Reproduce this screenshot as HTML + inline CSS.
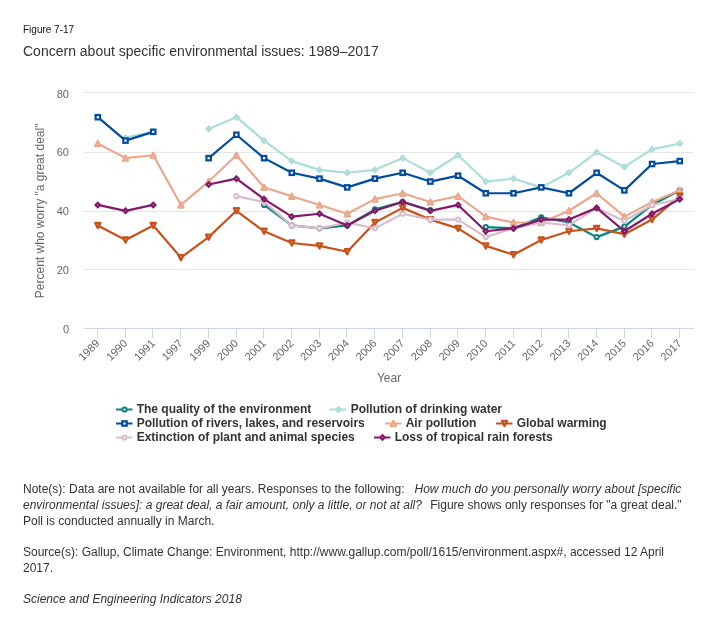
<!DOCTYPE html>
<html><head><meta charset="utf-8"><style>
html,body{margin:0;padding:0;background:#fff;}
body{width:724px;height:630px;position:relative;overflow:hidden;font-family:"Liberation Sans",sans-serif;}
.t{position:absolute;white-space:pre;color:#333333;will-change:transform;}
svg{position:absolute;left:0;top:0;will-change:transform;}
svg text{font-family:"Liberation Sans",sans-serif;}
</style></head><body>
<div class="t" style="left:23px;top:23.5px;font-size:10px;line-height:12px;color:#111;">Figure 7-17</div>
<div class="t" style="left:23px;top:42.7px;font-size:14px;line-height:16px;">Concern about specific environmental issues: 1989–2017</div>
<svg width="724" height="460" viewBox="0 0 724 460">
<rect x="84" y="92" width="610" height="1" fill="#e6e6e6"/>
<rect x="84" y="152" width="610" height="1" fill="#e6e6e6"/>
<rect x="84" y="211" width="610" height="1" fill="#e6e6e6"/>
<rect x="84" y="269" width="610" height="1" fill="#e6e6e6"/>
<rect x="84" y="328" width="610" height="1" fill="#ccd6eb"/>
<rect x="97" y="328" width="1" height="10" fill="#ccd6eb"/>
<rect x="125" y="328" width="1" height="10" fill="#ccd6eb"/>
<rect x="152" y="328" width="1" height="10" fill="#ccd6eb"/>
<rect x="180" y="328" width="1" height="10" fill="#ccd6eb"/>
<rect x="208" y="328" width="1" height="10" fill="#ccd6eb"/>
<rect x="236" y="328" width="1" height="10" fill="#ccd6eb"/>
<rect x="263" y="328" width="1" height="10" fill="#ccd6eb"/>
<rect x="291" y="328" width="1" height="10" fill="#ccd6eb"/>
<rect x="319" y="328" width="1" height="10" fill="#ccd6eb"/>
<rect x="346" y="328" width="1" height="10" fill="#ccd6eb"/>
<rect x="374" y="328" width="1" height="10" fill="#ccd6eb"/>
<rect x="402" y="328" width="1" height="10" fill="#ccd6eb"/>
<rect x="430" y="328" width="1" height="10" fill="#ccd6eb"/>
<rect x="457" y="328" width="1" height="10" fill="#ccd6eb"/>
<rect x="485" y="328" width="1" height="10" fill="#ccd6eb"/>
<rect x="513" y="328" width="1" height="10" fill="#ccd6eb"/>
<rect x="541" y="328" width="1" height="10" fill="#ccd6eb"/>
<rect x="568" y="328" width="1" height="10" fill="#ccd6eb"/>
<rect x="596" y="328" width="1" height="10" fill="#ccd6eb"/>
<rect x="624" y="328" width="1" height="10" fill="#ccd6eb"/>
<rect x="651" y="328" width="1" height="10" fill="#ccd6eb"/>
<rect x="679" y="328" width="1" height="10" fill="#ccd6eb"/>
<text x="69" y="98" text-anchor="end" font-size="11" fill="#666666">80</text>
<text x="69" y="156" text-anchor="end" font-size="11" fill="#666666">60</text>
<text x="69" y="215" text-anchor="end" font-size="11" fill="#666666">40</text>
<text x="69" y="274" text-anchor="end" font-size="11" fill="#666666">20</text>
<text x="69" y="333" text-anchor="end" font-size="11" fill="#666666">0</text>
<text x="100.30" y="344" text-anchor="end" font-size="11" fill="#666666" transform="rotate(-45 100.30 344)">1989</text>
<text x="128.01" y="344" text-anchor="end" font-size="11" fill="#666666" transform="rotate(-45 128.01 344)">1990</text>
<text x="155.73" y="344" text-anchor="end" font-size="11" fill="#666666" transform="rotate(-45 155.73 344)">1991</text>
<text x="183.44" y="344" text-anchor="end" font-size="11" fill="#666666" transform="rotate(-45 183.44 344)">1997</text>
<text x="211.16" y="344" text-anchor="end" font-size="11" fill="#666666" transform="rotate(-45 211.16 344)">1999</text>
<text x="238.87" y="344" text-anchor="end" font-size="11" fill="#666666" transform="rotate(-45 238.87 344)">2000</text>
<text x="266.58" y="344" text-anchor="end" font-size="11" fill="#666666" transform="rotate(-45 266.58 344)">2001</text>
<text x="294.30" y="344" text-anchor="end" font-size="11" fill="#666666" transform="rotate(-45 294.30 344)">2002</text>
<text x="322.01" y="344" text-anchor="end" font-size="11" fill="#666666" transform="rotate(-45 322.01 344)">2003</text>
<text x="349.73" y="344" text-anchor="end" font-size="11" fill="#666666" transform="rotate(-45 349.73 344)">2004</text>
<text x="377.44" y="344" text-anchor="end" font-size="11" fill="#666666" transform="rotate(-45 377.44 344)">2006</text>
<text x="405.15" y="344" text-anchor="end" font-size="11" fill="#666666" transform="rotate(-45 405.15 344)">2007</text>
<text x="432.87" y="344" text-anchor="end" font-size="11" fill="#666666" transform="rotate(-45 432.87 344)">2008</text>
<text x="460.58" y="344" text-anchor="end" font-size="11" fill="#666666" transform="rotate(-45 460.58 344)">2009</text>
<text x="488.30" y="344" text-anchor="end" font-size="11" fill="#666666" transform="rotate(-45 488.30 344)">2010</text>
<text x="516.01" y="344" text-anchor="end" font-size="11" fill="#666666" transform="rotate(-45 516.01 344)">2011</text>
<text x="543.72" y="344" text-anchor="end" font-size="11" fill="#666666" transform="rotate(-45 543.72 344)">2012</text>
<text x="571.44" y="344" text-anchor="end" font-size="11" fill="#666666" transform="rotate(-45 571.44 344)">2013</text>
<text x="599.15" y="344" text-anchor="end" font-size="11" fill="#666666" transform="rotate(-45 599.15 344)">2014</text>
<text x="626.87" y="344" text-anchor="end" font-size="11" fill="#666666" transform="rotate(-45 626.87 344)">2015</text>
<text x="654.58" y="344" text-anchor="end" font-size="11" fill="#666666" transform="rotate(-45 654.58 344)">2016</text>
<text x="682.29" y="344" text-anchor="end" font-size="11" fill="#666666" transform="rotate(-45 682.29 344)">2017</text>
<text x="389" y="381.5" text-anchor="middle" font-size="12" fill="#666666">Year</text>
<text x="0" y="0" text-anchor="middle" font-size="12" fill="#666666" transform="translate(44 210.9) rotate(-90)">Percent who worry "a great deal"</text>
<path d="M264.08 204.95L291.80 225.43L319.51 228.35L347.23 225.43L374.94 209.34L402.65 201.73L430.37 210.22" fill="none" stroke="#08847f" stroke-width="2.2" stroke-linejoin="round" stroke-linecap="round"/>
<path d="M485.80 227.18L513.51 228.35L541.22 217.24L568.94 222.50L596.65 237.12L624.37 226.60L652.08 204.95L679.79 190.33" fill="none" stroke="#08847f" stroke-width="2.2" stroke-linejoin="round" stroke-linecap="round"/>
<circle cx="264.08" cy="204.95" r="2.1" fill="#fff" stroke="#08847f" stroke-width="2"/>
<circle cx="291.80" cy="225.43" r="2.1" fill="#fff" stroke="#08847f" stroke-width="2"/>
<circle cx="319.51" cy="228.35" r="2.1" fill="#fff" stroke="#08847f" stroke-width="2"/>
<circle cx="347.23" cy="225.43" r="2.1" fill="#fff" stroke="#08847f" stroke-width="2"/>
<circle cx="374.94" cy="209.34" r="2.1" fill="#fff" stroke="#08847f" stroke-width="2"/>
<circle cx="402.65" cy="201.73" r="2.1" fill="#fff" stroke="#08847f" stroke-width="2"/>
<circle cx="430.37" cy="210.22" r="2.1" fill="#fff" stroke="#08847f" stroke-width="2"/>
<circle cx="485.80" cy="227.18" r="2.1" fill="#fff" stroke="#08847f" stroke-width="2"/>
<circle cx="513.51" cy="228.35" r="2.1" fill="#fff" stroke="#08847f" stroke-width="2"/>
<circle cx="541.22" cy="217.24" r="2.1" fill="#fff" stroke="#08847f" stroke-width="2"/>
<circle cx="568.94" cy="222.50" r="2.1" fill="#fff" stroke="#08847f" stroke-width="2"/>
<circle cx="596.65" cy="237.12" r="2.1" fill="#fff" stroke="#08847f" stroke-width="2"/>
<circle cx="624.37" cy="226.60" r="2.1" fill="#fff" stroke="#08847f" stroke-width="2"/>
<circle cx="652.08" cy="204.95" r="2.1" fill="#fff" stroke="#08847f" stroke-width="2"/>
<circle cx="679.79" cy="190.33" r="2.1" fill="#fff" stroke="#08847f" stroke-width="2"/>
<path d="M125.51 137.68L153.23 131.83" fill="none" stroke="#acddd9" stroke-width="2.2" stroke-linejoin="round" stroke-linecap="round"/>
<path d="M208.66 128.90L236.37 117.20L264.08 140.60L291.80 161.08L319.51 169.85L347.23 172.78L374.94 169.85L402.65 158.15L430.37 172.78L458.08 155.23L485.80 181.55L513.51 178.63L541.22 187.40L568.94 172.78L596.65 152.30L624.37 166.93L652.08 149.38L679.79 143.53" fill="none" stroke="#acddd9" stroke-width="2.2" stroke-linejoin="round" stroke-linecap="round"/>
<path d="M125.51 135.53L127.66 137.68L125.51 139.83L123.36 137.68Z" fill="#fff" stroke="#acddd9" stroke-width="2.3"/>
<path d="M153.23 129.68L155.38 131.83L153.23 133.98L151.08 131.83Z" fill="#fff" stroke="#acddd9" stroke-width="2.3"/>
<path d="M208.66 126.75L210.81 128.90L208.66 131.05L206.51 128.90Z" fill="#fff" stroke="#acddd9" stroke-width="2.3"/>
<path d="M236.37 115.05L238.52 117.20L236.37 119.35L234.22 117.20Z" fill="#fff" stroke="#acddd9" stroke-width="2.3"/>
<path d="M264.08 138.45L266.23 140.60L264.08 142.75L261.93 140.60Z" fill="#fff" stroke="#acddd9" stroke-width="2.3"/>
<path d="M291.80 158.93L293.95 161.08L291.80 163.23L289.65 161.08Z" fill="#fff" stroke="#acddd9" stroke-width="2.3"/>
<path d="M319.51 167.70L321.66 169.85L319.51 172.00L317.36 169.85Z" fill="#fff" stroke="#acddd9" stroke-width="2.3"/>
<path d="M347.23 170.63L349.38 172.78L347.23 174.93L345.08 172.78Z" fill="#fff" stroke="#acddd9" stroke-width="2.3"/>
<path d="M374.94 167.70L377.09 169.85L374.94 172.00L372.79 169.85Z" fill="#fff" stroke="#acddd9" stroke-width="2.3"/>
<path d="M402.65 156.00L404.80 158.15L402.65 160.30L400.50 158.15Z" fill="#fff" stroke="#acddd9" stroke-width="2.3"/>
<path d="M430.37 170.63L432.52 172.78L430.37 174.93L428.22 172.78Z" fill="#fff" stroke="#acddd9" stroke-width="2.3"/>
<path d="M458.08 153.08L460.23 155.23L458.08 157.38L455.93 155.23Z" fill="#fff" stroke="#acddd9" stroke-width="2.3"/>
<path d="M485.80 179.40L487.95 181.55L485.80 183.70L483.65 181.55Z" fill="#fff" stroke="#acddd9" stroke-width="2.3"/>
<path d="M513.51 176.48L515.66 178.63L513.51 180.78L511.36 178.63Z" fill="#fff" stroke="#acddd9" stroke-width="2.3"/>
<path d="M541.22 185.25L543.37 187.40L541.22 189.55L539.07 187.40Z" fill="#fff" stroke="#acddd9" stroke-width="2.3"/>
<path d="M568.94 170.63L571.09 172.78L568.94 174.93L566.79 172.78Z" fill="#fff" stroke="#acddd9" stroke-width="2.3"/>
<path d="M596.65 150.15L598.80 152.30L596.65 154.45L594.50 152.30Z" fill="#fff" stroke="#acddd9" stroke-width="2.3"/>
<path d="M624.37 164.78L626.52 166.93L624.37 169.08L622.22 166.93Z" fill="#fff" stroke="#acddd9" stroke-width="2.3"/>
<path d="M652.08 147.23L654.23 149.38L652.08 151.53L649.93 149.38Z" fill="#fff" stroke="#acddd9" stroke-width="2.3"/>
<path d="M679.79 141.38L681.94 143.53L679.79 145.68L677.64 143.53Z" fill="#fff" stroke="#acddd9" stroke-width="2.3"/>
<path d="M97.80 117.20L125.51 140.60L153.23 131.83" fill="none" stroke="#024c9d" stroke-width="2.2" stroke-linejoin="round" stroke-linecap="round"/>
<path d="M208.66 158.15L236.37 134.75L264.08 158.15L291.80 172.78L319.51 178.63L347.23 187.40L374.94 178.63L402.65 172.78L430.37 181.55L458.08 175.70L485.80 193.25L513.51 193.25L541.22 187.40L568.94 193.25L596.65 172.78L624.37 190.33L652.08 164.00L679.79 161.08" fill="none" stroke="#024c9d" stroke-width="2.2" stroke-linejoin="round" stroke-linecap="round"/>
<rect x="95.60" y="115.00" width="4.4" height="4.4" fill="#fff" stroke="#024c9d" stroke-width="2.2"/>
<rect x="123.31" y="138.40" width="4.4" height="4.4" fill="#fff" stroke="#024c9d" stroke-width="2.2"/>
<rect x="151.03" y="129.63" width="4.4" height="4.4" fill="#fff" stroke="#024c9d" stroke-width="2.2"/>
<rect x="206.46" y="155.95" width="4.4" height="4.4" fill="#fff" stroke="#024c9d" stroke-width="2.2"/>
<rect x="234.17" y="132.55" width="4.4" height="4.4" fill="#fff" stroke="#024c9d" stroke-width="2.2"/>
<rect x="261.88" y="155.95" width="4.4" height="4.4" fill="#fff" stroke="#024c9d" stroke-width="2.2"/>
<rect x="289.60" y="170.58" width="4.4" height="4.4" fill="#fff" stroke="#024c9d" stroke-width="2.2"/>
<rect x="317.31" y="176.43" width="4.4" height="4.4" fill="#fff" stroke="#024c9d" stroke-width="2.2"/>
<rect x="345.03" y="185.20" width="4.4" height="4.4" fill="#fff" stroke="#024c9d" stroke-width="2.2"/>
<rect x="372.74" y="176.43" width="4.4" height="4.4" fill="#fff" stroke="#024c9d" stroke-width="2.2"/>
<rect x="400.45" y="170.58" width="4.4" height="4.4" fill="#fff" stroke="#024c9d" stroke-width="2.2"/>
<rect x="428.17" y="179.35" width="4.4" height="4.4" fill="#fff" stroke="#024c9d" stroke-width="2.2"/>
<rect x="455.88" y="173.50" width="4.4" height="4.4" fill="#fff" stroke="#024c9d" stroke-width="2.2"/>
<rect x="483.60" y="191.05" width="4.4" height="4.4" fill="#fff" stroke="#024c9d" stroke-width="2.2"/>
<rect x="511.31" y="191.05" width="4.4" height="4.4" fill="#fff" stroke="#024c9d" stroke-width="2.2"/>
<rect x="539.02" y="185.20" width="4.4" height="4.4" fill="#fff" stroke="#024c9d" stroke-width="2.2"/>
<rect x="566.74" y="191.05" width="4.4" height="4.4" fill="#fff" stroke="#024c9d" stroke-width="2.2"/>
<rect x="594.45" y="170.58" width="4.4" height="4.4" fill="#fff" stroke="#024c9d" stroke-width="2.2"/>
<rect x="622.17" y="188.13" width="4.4" height="4.4" fill="#fff" stroke="#024c9d" stroke-width="2.2"/>
<rect x="649.88" y="161.80" width="4.4" height="4.4" fill="#fff" stroke="#024c9d" stroke-width="2.2"/>
<rect x="677.59" y="158.88" width="4.4" height="4.4" fill="#fff" stroke="#024c9d" stroke-width="2.2"/>
<path d="M97.80 143.53L125.51 158.15L153.23 155.23L180.94 204.95L208.66 181.55L236.37 155.23L264.08 187.40L291.80 196.18L319.51 204.95L347.23 213.73L374.94 199.10L402.65 193.25L430.37 202.03L458.08 196.18L485.80 216.65L513.51 222.50L541.22 222.50L568.94 210.80L596.65 193.25L624.37 216.65L652.08 202.03L679.79 190.33" fill="none" stroke="#eca88d" stroke-width="2.2" stroke-linejoin="round" stroke-linecap="round"/>
<path d="M97.80 141.03L100.30 146.03L95.30 146.03Z" fill="#fff" stroke="#eca88d" stroke-width="2.4" stroke-linejoin="round"/>
<path d="M125.51 155.65L128.01 160.65L123.01 160.65Z" fill="#fff" stroke="#eca88d" stroke-width="2.4" stroke-linejoin="round"/>
<path d="M153.23 152.73L155.73 157.73L150.73 157.73Z" fill="#fff" stroke="#eca88d" stroke-width="2.4" stroke-linejoin="round"/>
<path d="M180.94 202.45L183.44 207.45L178.44 207.45Z" fill="#fff" stroke="#eca88d" stroke-width="2.4" stroke-linejoin="round"/>
<path d="M208.66 179.05L211.16 184.05L206.16 184.05Z" fill="#fff" stroke="#eca88d" stroke-width="2.4" stroke-linejoin="round"/>
<path d="M236.37 152.73L238.87 157.73L233.87 157.73Z" fill="#fff" stroke="#eca88d" stroke-width="2.4" stroke-linejoin="round"/>
<path d="M264.08 184.90L266.58 189.90L261.58 189.90Z" fill="#fff" stroke="#eca88d" stroke-width="2.4" stroke-linejoin="round"/>
<path d="M291.80 193.68L294.30 198.68L289.30 198.68Z" fill="#fff" stroke="#eca88d" stroke-width="2.4" stroke-linejoin="round"/>
<path d="M319.51 202.45L322.01 207.45L317.01 207.45Z" fill="#fff" stroke="#eca88d" stroke-width="2.4" stroke-linejoin="round"/>
<path d="M347.23 211.23L349.73 216.23L344.73 216.23Z" fill="#fff" stroke="#eca88d" stroke-width="2.4" stroke-linejoin="round"/>
<path d="M374.94 196.60L377.44 201.60L372.44 201.60Z" fill="#fff" stroke="#eca88d" stroke-width="2.4" stroke-linejoin="round"/>
<path d="M402.65 190.75L405.15 195.75L400.15 195.75Z" fill="#fff" stroke="#eca88d" stroke-width="2.4" stroke-linejoin="round"/>
<path d="M430.37 199.53L432.87 204.53L427.87 204.53Z" fill="#fff" stroke="#eca88d" stroke-width="2.4" stroke-linejoin="round"/>
<path d="M458.08 193.68L460.58 198.68L455.58 198.68Z" fill="#fff" stroke="#eca88d" stroke-width="2.4" stroke-linejoin="round"/>
<path d="M485.80 214.15L488.30 219.15L483.30 219.15Z" fill="#fff" stroke="#eca88d" stroke-width="2.4" stroke-linejoin="round"/>
<path d="M513.51 220.00L516.01 225.00L511.01 225.00Z" fill="#fff" stroke="#eca88d" stroke-width="2.4" stroke-linejoin="round"/>
<path d="M541.22 220.00L543.72 225.00L538.72 225.00Z" fill="#fff" stroke="#eca88d" stroke-width="2.4" stroke-linejoin="round"/>
<path d="M568.94 208.30L571.44 213.30L566.44 213.30Z" fill="#fff" stroke="#eca88d" stroke-width="2.4" stroke-linejoin="round"/>
<path d="M596.65 190.75L599.15 195.75L594.15 195.75Z" fill="#fff" stroke="#eca88d" stroke-width="2.4" stroke-linejoin="round"/>
<path d="M624.37 214.15L626.87 219.15L621.87 219.15Z" fill="#fff" stroke="#eca88d" stroke-width="2.4" stroke-linejoin="round"/>
<path d="M652.08 199.53L654.58 204.53L649.58 204.53Z" fill="#fff" stroke="#eca88d" stroke-width="2.4" stroke-linejoin="round"/>
<path d="M679.79 187.83L682.29 192.83L677.29 192.83Z" fill="#fff" stroke="#eca88d" stroke-width="2.4" stroke-linejoin="round"/>
<path d="M97.80 225.43L125.51 240.05L153.23 225.43L180.94 257.60L208.66 237.12L236.37 210.80L264.08 231.28L291.80 242.98L319.51 245.90L347.23 251.75L374.94 222.50L402.65 207.88L430.37 219.58L458.08 228.35L485.80 245.90L513.51 254.68L541.22 240.05L568.94 231.28L596.65 228.35L624.37 234.20L652.08 219.58L679.79 196.18" fill="none" stroke="#c9521b" stroke-width="2.2" stroke-linejoin="round" stroke-linecap="round"/>
<path d="M95.30 222.93L100.30 222.93L97.80 227.93Z" fill="#fff" stroke="#c9521b" stroke-width="2.4" stroke-linejoin="round"/>
<path d="M123.01 237.55L128.01 237.55L125.51 242.55Z" fill="#fff" stroke="#c9521b" stroke-width="2.4" stroke-linejoin="round"/>
<path d="M150.73 222.93L155.73 222.93L153.23 227.93Z" fill="#fff" stroke="#c9521b" stroke-width="2.4" stroke-linejoin="round"/>
<path d="M178.44 255.10L183.44 255.10L180.94 260.10Z" fill="#fff" stroke="#c9521b" stroke-width="2.4" stroke-linejoin="round"/>
<path d="M206.16 234.62L211.16 234.62L208.66 239.62Z" fill="#fff" stroke="#c9521b" stroke-width="2.4" stroke-linejoin="round"/>
<path d="M233.87 208.30L238.87 208.30L236.37 213.30Z" fill="#fff" stroke="#c9521b" stroke-width="2.4" stroke-linejoin="round"/>
<path d="M261.58 228.78L266.58 228.78L264.08 233.78Z" fill="#fff" stroke="#c9521b" stroke-width="2.4" stroke-linejoin="round"/>
<path d="M289.30 240.48L294.30 240.48L291.80 245.48Z" fill="#fff" stroke="#c9521b" stroke-width="2.4" stroke-linejoin="round"/>
<path d="M317.01 243.40L322.01 243.40L319.51 248.40Z" fill="#fff" stroke="#c9521b" stroke-width="2.4" stroke-linejoin="round"/>
<path d="M344.73 249.25L349.73 249.25L347.23 254.25Z" fill="#fff" stroke="#c9521b" stroke-width="2.4" stroke-linejoin="round"/>
<path d="M372.44 220.00L377.44 220.00L374.94 225.00Z" fill="#fff" stroke="#c9521b" stroke-width="2.4" stroke-linejoin="round"/>
<path d="M400.15 205.38L405.15 205.38L402.65 210.38Z" fill="#fff" stroke="#c9521b" stroke-width="2.4" stroke-linejoin="round"/>
<path d="M427.87 217.08L432.87 217.08L430.37 222.08Z" fill="#fff" stroke="#c9521b" stroke-width="2.4" stroke-linejoin="round"/>
<path d="M455.58 225.85L460.58 225.85L458.08 230.85Z" fill="#fff" stroke="#c9521b" stroke-width="2.4" stroke-linejoin="round"/>
<path d="M483.30 243.40L488.30 243.40L485.80 248.40Z" fill="#fff" stroke="#c9521b" stroke-width="2.4" stroke-linejoin="round"/>
<path d="M511.01 252.18L516.01 252.18L513.51 257.18Z" fill="#fff" stroke="#c9521b" stroke-width="2.4" stroke-linejoin="round"/>
<path d="M538.72 237.55L543.72 237.55L541.22 242.55Z" fill="#fff" stroke="#c9521b" stroke-width="2.4" stroke-linejoin="round"/>
<path d="M566.44 228.78L571.44 228.78L568.94 233.78Z" fill="#fff" stroke="#c9521b" stroke-width="2.4" stroke-linejoin="round"/>
<path d="M594.15 225.85L599.15 225.85L596.65 230.85Z" fill="#fff" stroke="#c9521b" stroke-width="2.4" stroke-linejoin="round"/>
<path d="M621.87 231.70L626.87 231.70L624.37 236.70Z" fill="#fff" stroke="#c9521b" stroke-width="2.4" stroke-linejoin="round"/>
<path d="M649.58 217.08L654.58 217.08L652.08 222.08Z" fill="#fff" stroke="#c9521b" stroke-width="2.4" stroke-linejoin="round"/>
<path d="M677.29 193.68L682.29 193.68L679.79 198.68Z" fill="#fff" stroke="#c9521b" stroke-width="2.4" stroke-linejoin="round"/>
<path d="M236.37 196.18L264.08 202.03L291.80 225.43L319.51 228.35L347.23 222.50L374.94 228.35L402.65 213.73L430.37 219.58L458.08 219.58L485.80 237.12L513.51 228.35L541.22 222.50L568.94 225.43L596.65 207.88L624.37 221.04L652.08 204.95L679.79 199.10" fill="none" stroke="#d9bccc" stroke-width="2.2" stroke-linejoin="round" stroke-linecap="round"/>
<circle cx="236.37" cy="196.18" r="2.1" fill="#fff" stroke="#d9bccc" stroke-width="2"/>
<circle cx="264.08" cy="202.03" r="2.1" fill="#fff" stroke="#d9bccc" stroke-width="2"/>
<circle cx="291.80" cy="225.43" r="2.1" fill="#fff" stroke="#d9bccc" stroke-width="2"/>
<circle cx="319.51" cy="228.35" r="2.1" fill="#fff" stroke="#d9bccc" stroke-width="2"/>
<circle cx="347.23" cy="222.50" r="2.1" fill="#fff" stroke="#d9bccc" stroke-width="2"/>
<circle cx="374.94" cy="228.35" r="2.1" fill="#fff" stroke="#d9bccc" stroke-width="2"/>
<circle cx="402.65" cy="213.73" r="2.1" fill="#fff" stroke="#d9bccc" stroke-width="2"/>
<circle cx="430.37" cy="219.58" r="2.1" fill="#fff" stroke="#d9bccc" stroke-width="2"/>
<circle cx="458.08" cy="219.58" r="2.1" fill="#fff" stroke="#d9bccc" stroke-width="2"/>
<circle cx="485.80" cy="237.12" r="2.1" fill="#fff" stroke="#d9bccc" stroke-width="2"/>
<circle cx="513.51" cy="228.35" r="2.1" fill="#fff" stroke="#d9bccc" stroke-width="2"/>
<circle cx="541.22" cy="222.50" r="2.1" fill="#fff" stroke="#d9bccc" stroke-width="2"/>
<circle cx="568.94" cy="225.43" r="2.1" fill="#fff" stroke="#d9bccc" stroke-width="2"/>
<circle cx="596.65" cy="207.88" r="2.1" fill="#fff" stroke="#d9bccc" stroke-width="2"/>
<circle cx="624.37" cy="221.04" r="2.1" fill="#fff" stroke="#d9bccc" stroke-width="2"/>
<circle cx="652.08" cy="204.95" r="2.1" fill="#fff" stroke="#d9bccc" stroke-width="2"/>
<circle cx="679.79" cy="199.10" r="2.1" fill="#fff" stroke="#d9bccc" stroke-width="2"/>
<path d="M97.80 204.95L125.51 210.80L153.23 204.95" fill="none" stroke="#84196a" stroke-width="2.2" stroke-linejoin="round" stroke-linecap="round"/>
<path d="M208.66 184.48L236.37 178.63L264.08 199.10L291.80 216.65L319.51 213.73L347.23 225.43L374.94 210.80L402.65 202.03L430.37 210.80L458.08 204.95L485.80 231.28L513.51 228.35L541.22 219.58L568.94 219.58L596.65 207.88L624.37 231.28L652.08 213.73L679.79 199.10" fill="none" stroke="#84196a" stroke-width="2.2" stroke-linejoin="round" stroke-linecap="round"/>
<path d="M97.80 202.80L99.95 204.95L97.80 207.10L95.65 204.95Z" fill="#fff" stroke="#84196a" stroke-width="2.3"/>
<path d="M125.51 208.65L127.66 210.80L125.51 212.95L123.36 210.80Z" fill="#fff" stroke="#84196a" stroke-width="2.3"/>
<path d="M153.23 202.80L155.38 204.95L153.23 207.10L151.08 204.95Z" fill="#fff" stroke="#84196a" stroke-width="2.3"/>
<path d="M208.66 182.33L210.81 184.48L208.66 186.63L206.51 184.48Z" fill="#fff" stroke="#84196a" stroke-width="2.3"/>
<path d="M236.37 176.48L238.52 178.63L236.37 180.78L234.22 178.63Z" fill="#fff" stroke="#84196a" stroke-width="2.3"/>
<path d="M264.08 196.95L266.23 199.10L264.08 201.25L261.93 199.10Z" fill="#fff" stroke="#84196a" stroke-width="2.3"/>
<path d="M291.80 214.50L293.95 216.65L291.80 218.80L289.65 216.65Z" fill="#fff" stroke="#84196a" stroke-width="2.3"/>
<path d="M319.51 211.58L321.66 213.73L319.51 215.88L317.36 213.73Z" fill="#fff" stroke="#84196a" stroke-width="2.3"/>
<path d="M347.23 223.28L349.38 225.43L347.23 227.58L345.08 225.43Z" fill="#fff" stroke="#84196a" stroke-width="2.3"/>
<path d="M374.94 208.65L377.09 210.80L374.94 212.95L372.79 210.80Z" fill="#fff" stroke="#84196a" stroke-width="2.3"/>
<path d="M402.65 199.88L404.80 202.03L402.65 204.18L400.50 202.03Z" fill="#fff" stroke="#84196a" stroke-width="2.3"/>
<path d="M430.37 208.65L432.52 210.80L430.37 212.95L428.22 210.80Z" fill="#fff" stroke="#84196a" stroke-width="2.3"/>
<path d="M458.08 202.80L460.23 204.95L458.08 207.10L455.93 204.95Z" fill="#fff" stroke="#84196a" stroke-width="2.3"/>
<path d="M485.80 229.13L487.95 231.28L485.80 233.43L483.65 231.28Z" fill="#fff" stroke="#84196a" stroke-width="2.3"/>
<path d="M513.51 226.20L515.66 228.35L513.51 230.50L511.36 228.35Z" fill="#fff" stroke="#84196a" stroke-width="2.3"/>
<path d="M541.22 217.43L543.37 219.58L541.22 221.73L539.07 219.58Z" fill="#fff" stroke="#84196a" stroke-width="2.3"/>
<path d="M568.94 217.43L571.09 219.58L568.94 221.73L566.79 219.58Z" fill="#fff" stroke="#84196a" stroke-width="2.3"/>
<path d="M596.65 205.72L598.80 207.88L596.65 210.03L594.50 207.88Z" fill="#fff" stroke="#84196a" stroke-width="2.3"/>
<path d="M624.37 229.13L626.52 231.28L624.37 233.43L622.22 231.28Z" fill="#fff" stroke="#84196a" stroke-width="2.3"/>
<path d="M652.08 211.58L654.23 213.73L652.08 215.88L649.93 213.73Z" fill="#fff" stroke="#84196a" stroke-width="2.3"/>
<path d="M679.79 196.95L681.94 199.10L679.79 201.25L677.64 199.10Z" fill="#fff" stroke="#84196a" stroke-width="2.3"/>
<path d="M116.0 409.5L132.5 409.5" stroke="#08847f" stroke-width="2"/>
<circle cx="124.50" cy="409.50" r="2.1" fill="#fff" stroke="#08847f" stroke-width="2"/>
<text x="136.7" y="413.0" font-size="12" font-weight="bold" fill="#333333">The quality of the environment</text>
<path d="M330.0 409.5L346.5 409.5" stroke="#acddd9" stroke-width="2"/>
<path d="M338.50 407.35L340.65 409.50L338.50 411.65L336.35 409.50Z" fill="#fff" stroke="#acddd9" stroke-width="2.3"/>
<text x="350.7" y="413.0" font-size="12" font-weight="bold" fill="#333333">Pollution of drinking water</text>
<path d="M116.0 423.5L132.5 423.5" stroke="#024c9d" stroke-width="2"/>
<rect x="122.30" y="421.30" width="4.4" height="4.4" fill="#fff" stroke="#024c9d" stroke-width="2.2"/>
<text x="136.7" y="427.0" font-size="12" font-weight="bold" fill="#333333">Pollution of rivers, lakes, and reservoirs</text>
<path d="M385.0 423.5L401.5 423.5" stroke="#eca88d" stroke-width="2"/>
<path d="M393.50 421.00L396.00 426.00L391.00 426.00Z" fill="#fff" stroke="#eca88d" stroke-width="2.4" stroke-linejoin="round"/>
<text x="405.7" y="427.0" font-size="12" font-weight="bold" fill="#333333">Air pollution</text>
<path d="M496.0 423.5L512.5 423.5" stroke="#c9521b" stroke-width="2"/>
<path d="M502.00 421.00L507.00 421.00L504.50 426.00Z" fill="#fff" stroke="#c9521b" stroke-width="2.4" stroke-linejoin="round"/>
<text x="516.7" y="427.0" font-size="12" font-weight="bold" fill="#333333">Global warming</text>
<path d="M116.0 437.5L132.5 437.5" stroke="#d9bccc" stroke-width="2"/>
<circle cx="124.50" cy="437.50" r="2.1" fill="#fff" stroke="#d9bccc" stroke-width="2"/>
<text x="136.7" y="441.0" font-size="12" font-weight="bold" fill="#333333">Extinction of plant and animal species</text>
<path d="M374.0 437.5L390.5 437.5" stroke="#84196a" stroke-width="2"/>
<path d="M382.50 435.35L384.65 437.50L382.50 439.65L380.35 437.50Z" fill="#fff" stroke="#84196a" stroke-width="2.3"/>
<text x="394.7" y="441.0" font-size="12" font-weight="bold" fill="#333333">Loss of tropical rain forests</text>
</svg>
<div class="t" style="left:23px;top:481px;font-size:12px;line-height:16px;">Note(s): Data are not available for all years. Responses to the following:   <i>How much do you personally worry about [specific</i>
<i>environmental issues]: a great deal, a fair amount, only a little, or not at all?</i>  <span style="display:inline-block;width:1.7px"></span>Figure shows only responses for "a great deal."
Poll is conducted annually in March.</div>
<div class="t" style="left:23px;top:544px;font-size:12px;line-height:16px;">Source(s): Gallup, Climate Change: Environment, http://www.gallup.com/poll/1615/environment.aspx#, accessed 12 April
2017.</div>
<div class="t" style="left:23px;top:591px;font-size:12px;line-height:16px;"><i>Science and Engineering Indicators 2018</i></div>
</body></html>
